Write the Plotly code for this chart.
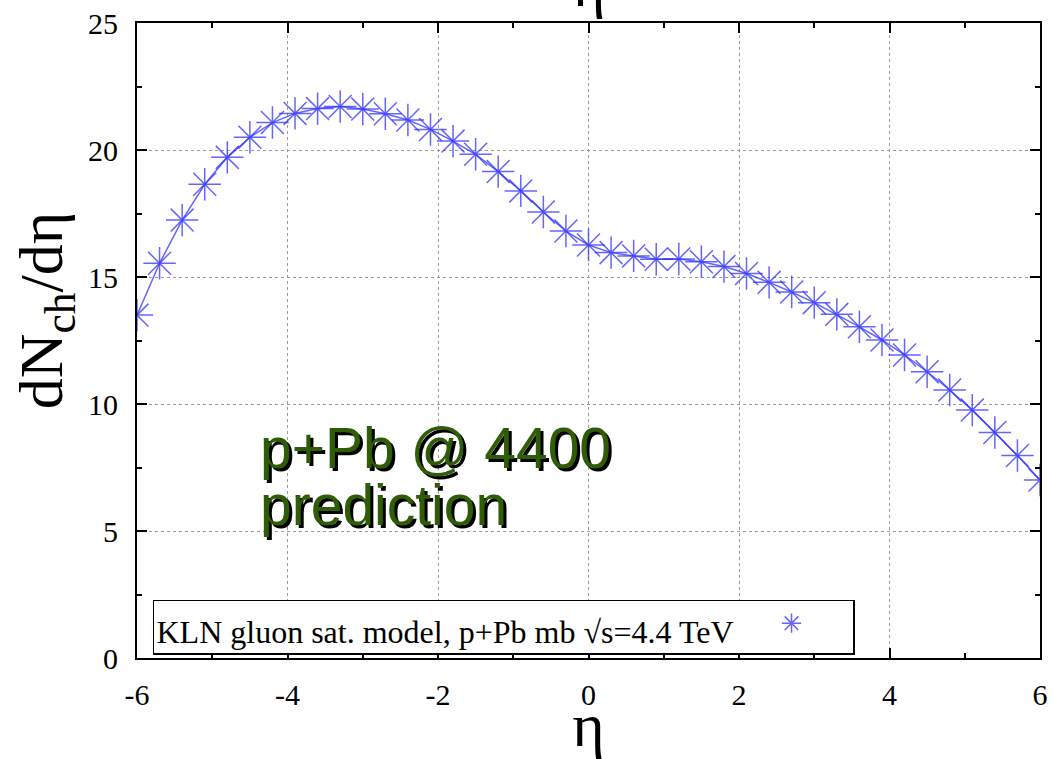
import plotly.graph_objects as go

# ---- data ----
eta = [-6.0, -5.7, -5.4, -5.1, -4.8, -4.5, -4.2, -3.9, -3.6, -3.3, -3.0,
       -2.7, -2.4, -2.1, -1.8, -1.5, -1.2, -0.9, -0.6, -0.3, 0.0,
       0.3, 0.6, 0.9, 1.2, 1.5, 1.8, 2.1, 2.4, 2.7, 3.0,
       3.3, 3.6, 3.9, 4.2, 4.5, 4.8, 5.1, 5.4, 5.7, 6.0]
dndeta = [13.50, 15.54, 17.24, 18.65, 19.71, 20.50, 21.08, 21.44, 21.63, 21.71, 21.61,
          21.43, 21.18, 20.81, 20.35, 19.83, 19.15, 18.39, 17.56, 16.81, 16.26,
          15.96, 15.83, 15.70, 15.71, 15.60, 15.41, 15.14, 14.79, 14.41, 13.99,
          13.53, 13.04, 12.52, 11.93, 11.27, 10.55, 9.76, 8.88, 7.97, 7.01]
series_name = "KLN gluon sat. model, p+Pb mb \u221as=4.4 TeV"
x_tick_vals = [-6, -4, -2, 0, 2, 4, 6]
x_tick_text = ["-6", "-4", "-2", "0", "2", "4", "6"]
y_tick_vals = [0, 5, 10, 15, 20, 25]
y_tick_text = ["0", "5", "10", "15", "20", "25"]
note_lines = ["p+Pb @ 4400", "prediction"]

SERIF = "Liberation Serif"
SANS = "Liberation Sans"
BLUE = "rgba(50,50,255,0.75)"
GREEN = "#2f5c06"

fig = go.Figure()
# connecting line (not in legend)
fig.add_trace(go.Scatter(
    x=eta, y=dndeta, mode="lines", showlegend=False, hoverinfo="skip",
    line=dict(color=BLUE, width=1.5),
))
# markers (legend entry shows the asterisk only)
fig.add_trace(go.Scatter(
    x=eta, y=dndeta, mode="markers", name=" ",
    marker=dict(symbol="asterisk-open", size=27, color=BLUE,
                line=dict(color=BLUE, width=1.5)),
    showlegend=True,
))

axis_common = dict(
    showline=True, linecolor="black", linewidth=2, mirror="ticks",
    ticks="inside", ticklen=10, tickwidth=1.5, tickcolor="black",
    showgrid=True, gridcolor="#9a9a9a", griddash="dot", gridwidth=1,
    zeroline=False, automargin=False,
    tickfont=dict(family=SERIF, size=30, color="black"),
)

fig.update_xaxes(
    range=[-6, 6], tickvals=x_tick_vals, ticktext=x_tick_text,
    minor=dict(dtick=1, tick0=-6, ticks="inside", ticklen=5, tickwidth=1.5,
               tickcolor="black", showgrid=False),
    ticklabelstandoff=9,
    title=dict(text="\u03b7", font=dict(family=SERIF, size=62, color="black"),
               standoff=4),
    **axis_common,
)
fig.update_yaxes(
    range=[0, 25], tickvals=y_tick_vals, ticktext=y_tick_text,
    minor=dict(dtick=2.5, tick0=0, ticks="inside", ticklen=5, tickwidth=1.5,
               tickcolor="black", showgrid=False),
    ticklabelstandoff=11,
    **axis_common,
)

annotations = [
    # y-axis title
    dict(text="dN<sub>ch</sub>/d\u03b7", xref="paper", yref="paper",
         x=0, y=0.546, xanchor="center", yanchor="middle", xshift=-92,
         textangle=-90, showarrow=False,
         font=dict(family=SERIF, size=62, color="black")),
    # cut-off top title
    dict(text="\u03b7", xref="paper", yref="paper", x=0.5, y=1,
         xanchor="center", yanchor="bottom", yshift=2, showarrow=False,
         font=dict(family=SERIF, size=62, color="black")),
]
note_y = [0.33, 0.241]
for line, yy in zip(note_lines, note_y):
    annotations.append(dict(text=line, xref="paper", yref="paper",
                            x=0.134, y=yy, xanchor="left", yanchor="middle",
                            xshift=3, yshift=-3, showarrow=False,
                            font=dict(family=SANS, size=57, color="black")))
    annotations.append(dict(text=line, xref="paper", yref="paper",
                            x=0.134, y=yy, xanchor="left", yanchor="middle",
                            showarrow=False,
                            font=dict(family=SANS, size=57, color=GREEN)))

fig.update_layout(
    width=1053, height=759,
    margin=dict(l=137, r=13, t=23, b=101),
    paper_bgcolor="white", plot_bgcolor="white",
    annotations=annotations,
    legend=dict(
        x=0.0177, y=0.092, xanchor="left", yanchor="top",
        bgcolor="white", bordercolor="black", borderwidth=1.5,
        title=dict(text=series_name, side="left",
                   font=dict(family=SERIF, size=32, color="black")),
        font=dict(family=SERIF, size=24, color="black"),
        itemwidth=90, entrywidth=114, tracegroupgap=0,
    ),
)

fig.write_html("out.html")
